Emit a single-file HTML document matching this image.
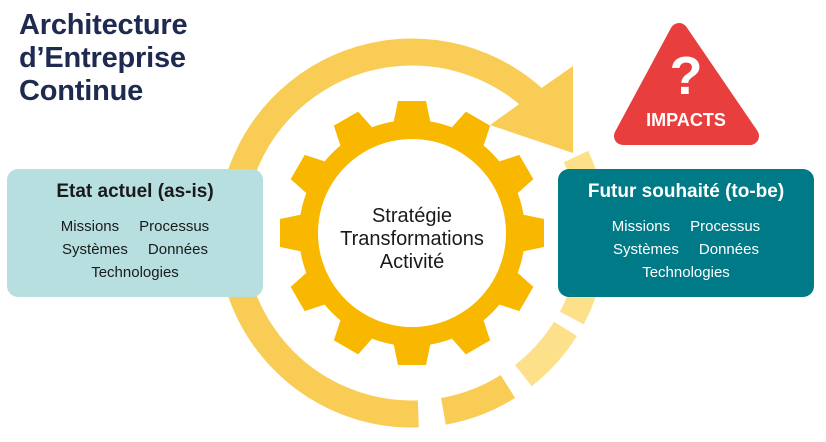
<!DOCTYPE html>
<html><head><meta charset="utf-8"><style>
html,body{margin:0;padding:0;background:#fff;}
body{width:826px;height:442px;position:relative;overflow:hidden;font-family:"Liberation Sans",sans-serif;}
.t{position:absolute;left:19px;top:9px;color:#1f2a50;font-weight:bold;font-size:29px;line-height:33px;letter-spacing:-0.2px;}
.box{position:absolute;top:169px;width:256px;height:128px;border-radius:11px;text-align:center;}
.box h3{margin:12px 0 12px;font-size:19px;font-weight:bold;}
.box p{margin:0;font-size:15px;line-height:23px;}
.box span{display:inline-block;margin:0 10px;}
</style></head><body>
<svg width="826" height="442" style="position:absolute;left:0;top:0">
<g fill="none" stroke-width="27">
<path d="M418.3,413.9 A181,181 0 1 1 550.7,116.6" stroke="#f9cd55"/>
<path d="M507.9,386.5 A181,181 0 0 1 443.4,411.3" stroke="#f9cd55"/>
<path d="M565.5,328.9 A181,181 0 0 1 523.4,375.6" stroke="#fde08a"/>
<path d="M576.0,156.5 A181,181 0 0 1 571.8,318.0" stroke="#fde08a"/>
</g>
<polygon points="573,66 573,153 490,125 543,87" fill="#f9cd55"/>
<g transform="translate(412,233)" fill="#f9b800">
<circle r="113"/>
<g id="tt"><polygon points="-19,-108 -14,-132 14,-132 19,-108"/></g>
<use href="#tt" transform="rotate(30)"/><use href="#tt" transform="rotate(60)"/><use href="#tt" transform="rotate(90)"/>
<use href="#tt" transform="rotate(120)"/><use href="#tt" transform="rotate(150)"/><use href="#tt" transform="rotate(180)"/>
<use href="#tt" transform="rotate(210)"/><use href="#tt" transform="rotate(240)"/><use href="#tt" transform="rotate(270)"/>
<use href="#tt" transform="rotate(300)"/><use href="#tt" transform="rotate(330)"/>
<circle r="94" fill="#fff"/>
</g>
<g font-family="Liberation Sans, sans-serif" font-size="20" fill="#1a1a1a" text-anchor="middle">
<text x="412" y="222">Stratégie</text>
<text x="412" y="245">Transformations</text>
<text x="412" y="268">Activité</text>
</g>
<polygon points="679,32 623,136 750,136" fill="#e83e3e" stroke="#e83e3e" stroke-width="18" stroke-linejoin="round"/>
<text x="686" y="94" fill="#fff" font-family="Liberation Sans, sans-serif" font-weight="bold" font-size="54" text-anchor="middle">?</text>
<text x="686" y="126" fill="#fff" font-family="Liberation Sans, sans-serif" font-weight="bold" font-size="18" text-anchor="middle">IMPACTS</text>
</svg>
<div class="t">Architecture<br>d’Entreprise<br>Continue</div>
<div class="box" style="left:7px;background:#b8dfe0;color:#1a1a1a">
<h3>Etat actuel (as-is)</h3>
<p><span>Missions</span><span>Processus</span><br><span>Systèmes</span><span>Données</span><br>Technologies</p>
</div>
<div class="box" style="left:558px;background:#007a87;color:#fff">
<h3>Futur souhaité (to-be)</h3>
<p><span>Missions</span><span>Processus</span><br><span>Systèmes</span><span>Données</span><br>Technologies</p>
</div>
</body></html>
